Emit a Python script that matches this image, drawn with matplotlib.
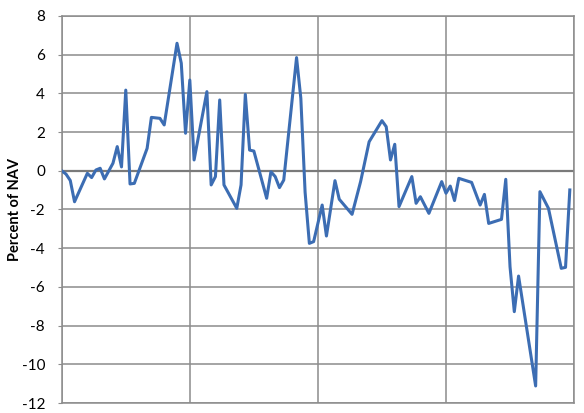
import matplotlib
matplotlib.use('Agg')
import matplotlib.pyplot as plt

# 月份序号（只保留折线拐点）
months = [0, 1, 2, 3, 6, 7, 8, 9, 10, 12, 13, 14, 15, 16, 17, 20, 21, 23, 24,
          27, 28, 29, 30, 31, 34, 35, 36, 37, 38, 41, 42, 43, 44, 45, 48, 49,
          50, 51, 52, 55, 56, 57, 58, 59, 61, 62, 64, 65, 68, 70, 72, 75, 76,
          77, 78, 79, 82, 83, 84, 86, 89, 90, 91, 92, 93, 96, 98, 99, 100,
          103, 104, 105, 106, 107, 111, 112, 114, 117, 118, 119]
pct_nav = [0.0, -0.17, -0.5, -1.6, -0.13, -0.35, 0.04, 0.13, -0.42, 0.39, 1.25,
           0.2, 4.17, -0.68, -0.65, 1.16, 2.76, 2.71, 2.37,
           6.59, 5.56, 1.94, 4.69, 0.56, 4.09, -0.73, -0.3, 3.66, -0.73, -1.94,
           -0.73, 3.95, 1.07, 1.02, -1.42, -0.05,
           -0.3, -0.87, -0.48, 5.85, 3.75, -1.1, -3.75, -3.66, -1.77, -3.37,
           -0.51, -1.47, -2.25, -0.56, 1.5, 2.59, 2.28,
           0.56, 1.37, -1.85, -0.3, -1.68, -1.34, -2.2, -0.56, -1.16, -0.79,
           -1.54, -0.39, -0.6, -1.77, -1.22, -2.72,
           -2.51, -0.44, -4.96, -7.28, -5.44, -11.12, -1.08, -1.94, -5.04,
           -4.99, -0.99]
y_ticks = [-12, -10, -8, -6, -4, -2, 0, 2, 4, 6, 8]
x_grid = [0, 30, 60, 90, 120]

plt.rcParams['font.family'] = ['Lato', 'DejaVu Sans']
plt.rcParams['axes.unicode_minus'] = False

fig = plt.figure(figsize=(5.84, 4.13), dpi=100)
ax = fig.add_axes([0.1057, 0.0242, 0.8773, 0.9371])

ax.set_xlim(0, 120)
ax.set_ylim(-12, 8)
ax.set_yticks(y_ticks)
ax.set_xticks(x_grid)
ax.set_xticklabels([])
ax.tick_params(axis='x', length=0)
ax.tick_params(axis='y', length=3, color='#8c8c8c', pad=9, labelsize=11)
ax.grid(True, color='#8c8c8c', linewidth=1.1)
ax.set_axisbelow(True)
for s in ax.spines.values():
    s.set_color('#8c8c8c')
    s.set_linewidth(1.1)
ax.axhline(0, color='#7a7a7a', linewidth=1.6, zorder=1)

ax.plot(months, pct_nav, color='#3c6db3', linewidth=2.2, zorder=3)

ax.set_ylabel('Percent of NAV', fontsize=10.5, fontweight='bold',
              va='center', ha='center')
ax.yaxis.set_label_coords(-0.091, 0.5)

fig.savefig('out.png', dpi=100)
